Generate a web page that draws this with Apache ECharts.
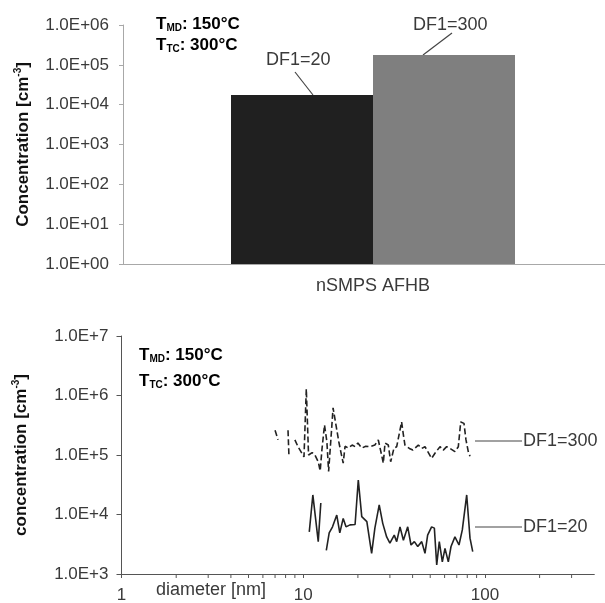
<!DOCTYPE html>
<html><head><meta charset="utf-8">
<script src="https://cdn.jsdelivr.net/npm/echarts@6/dist/echarts.min.js"></script>
<style>html,body{margin:0;padding:0;background:#fff}#c{width:605px;height:603px}</style>
</head><body><div id="c"></div>
<script>
// ---- top chart data ----
const barCategories = ['nSMPS AFHB'];
const barDF20 = [1.75e4];
const barDF300 = [1.77e5];

// ---- bottom chart data: [diameter nm, concentration cm^-3] ----
const df300 = [
  [7.0,2.6e5],[7.27,1.8e5],null,[8.25,2.6e5],[8.35,9.3e4],null,[9.0,1.8e5],[9.36,1.38e5],
  [10.1,9.3e4],[10.4,1.29e6],[10.7,1.0e5],[11.2,1.1e5],[11.6,1.0e5],[12.1,7.7e4],[12.4,5.4e4],
  [12.7,1.3e5],[13.1,3.2e5],[13.5,1.67e5],[13.8,5.3e4],[14.2,1.8e5],[14.6,6.2e5],[15.2,3.0e5],
  [15.7,1.67e5],[16.1,1.14e5],[16.6,7.3e4],[17.0,1.4e5],[17.7,1.31e5],[18.6,1.47e5],[19.3,1.38e5],
  [20.0,1.59e5],[21.0,1.31e5],[22.1,1.4e5],[23.3,1.38e5],[24.8,1.47e5],[25.9,1.79e5],[27.0,1.0e5],
  [27.6,7.3e4],[28.2,1.59e5],[29.4,1.47e5],[30.3,7.7e4],[31.6,1.31e5],[32.7,1.38e5],[34.8,3.6e5],
  [35.6,2.17e5],[36.3,1.47e5],[38.4,1.29e5],[40.1,1.21e5],[43.0,1.47e5],[44.9,1.29e5],[46.8,1.38e5],
  [50.9,8.8e4],[53.1,1.07e5],[56.6,1.38e5],[59.0,1.21e5],[61.6,1.38e5],[64.3,1.29e5],[68.4,1.14e5],
  [71.4,1.38e5],[73.6,3.6e5],[76.7,3.4e5],[78.7,1.79e5],[81.0,1.14e5],[82.8,9.5e4]
];
const df20 = [
  [10.8,5.1e3],[11.3,2.13e4],[12.1,3.5e3],[12.5,1.56e4],null,
  [13.4,2.5e3],[13.9,4.9e3],[14.5,6.2e3],[15.3,9.8e3],[15.9,4.9e3],[16.6,8.6e3],[17.2,6.2e3],
  [18.1,6.7e3],[19.3,6.8e3],[20.1,3.8e4],[21.0,9.2e3],[22.4,7.6e3],[23.8,2.23e3],[24.8,5.9e3],
  [25.4,5.5e3],[26.2,1.45e4],[27.4,7.1e3],[28.8,4.2e3],[30.0,3.3e3],[31.7,4.5e3],[32.7,3.5e3],
  [34.1,6.2e3],[35.6,3.7e3],[37.6,6.2e3],[39.2,3.07e3],[40.9,3.5e3],[42.7,2.9e3],[44.9,3.5e3],
  [46.8,2.23e3],[48.4,4.5e3],[50.9,6.2e3],[52.7,5.9e3],[54.3,1.42e3],[56.1,3.5e3],[58.3,1.6e3],
  [60.3,2.7e3],[62.9,1.6e3],[65.1,2.9e3],[68.4,4.2e3],[72.0,3.07e3],[75.1,5.5e3],[79.4,2.13e4],
  [82.8,4.0e3],[85.7,2.37e3]
];
const minorTicksX = [2,3,4,5,6,7,8,9,20,30,40,50,60,70,80,90,200,300];

const FONT = '"Liberation Sans", Arial, sans-serif';
const labelColor = '#3a3a3a';
const topAxisColor = '#a8a8a8';
const botAxisColor = '#555';

function expTop(v){ const e = Math.round(Math.log10(v)); return '1.0E+' + (e < 10 ? '0' : '') + e; }
function expBot(v){ const e = Math.round(Math.log10(v)); return '1.0E+' + e; }

const titleRich = {
  b: {fontSize: 17, fontWeight: 'bold', color: '#111', fontFamily: FONT, lineHeight: 20},
  sup: {fontSize: 10, fontWeight: 'bold', color: '#111', fontFamily: FONT, verticalAlign: 'top', lineHeight: 10}
};
const tRich = {
  t: {fontSize: 17, fontWeight: 'bold', color: '#111', fontFamily: FONT, lineHeight: 18},
  s: {fontSize: 10, fontWeight: 'bold', color: '#111', fontFamily: FONT, verticalAlign: 'bottom', lineHeight: 10}
};

function tText(x, y, sub, val){
  return {type: 'text', left: x, top: y, style: {text: '{t|T}{s|' + sub + '}{t|: ' + val + '}', rich: tRich}};
}
function plainText(x, y, txt){
  return {type: 'text', left: x, top: y, style: {text: txt, fontSize: 18, fill: labelColor, fontFamily: FONT}};
}
function seg(x1, y1, x2, y2){
  return {type: 'line', shape: {x1, y1, x2, y2}, style: {stroke: '#444', lineWidth: 1.2}};
}

const chart = echarts.init(document.getElementById('c'), null, {renderer: 'canvas'});
chart.setOption({
  animation: false,
  backgroundColor: '#fff',
  textStyle: {fontFamily: FONT},
  grid: [
    {left: 123, top: 25, width: 500, height: 239, outerBoundsMode: 'none', containLabel: false},
    {left: 121.5, top: 336, width: 472.8, height: 238, outerBoundsMode: 'none', containLabel: false}
  ],
  xAxis: [
    {type: 'category', gridIndex: 0, data: barCategories,
     axisLine: {lineStyle: {color: topAxisColor, width: 1}}, axisTick: {show: false},
     axisLabel: {fontSize: 18, color: labelColor, margin: 13, fontFamily: FONT}},
    {type: 'log', gridIndex: 1, min: 1, max: 400, logBase: 10,
     axisLine: {lineStyle: {color: botAxisColor, width: 1}},
     axisTick: {show: true, length: 4, lineStyle: {color: botAxisColor}},
     axisLabel: {fontSize: 17, color: labelColor, margin: 13, showMaxLabel: false, fontFamily: FONT},
     splitLine: {show: false}}
  ],
  yAxis: [
    {type: 'log', gridIndex: 0, min: 1, max: 1e6, logBase: 10,
     axisLine: {show: true, lineStyle: {color: topAxisColor}},
     axisTick: {show: true, length: 4, lineStyle: {color: topAxisColor}},
     axisLabel: {fontSize: 17, color: labelColor, margin: 14, formatter: expTop, fontFamily: FONT},
     splitLine: {show: false},
     name: '{b|Concentration [cm}{sup|-3}{b|]}', nameLocation: 'middle', nameRotate: 90, nameGap: 90,
     nameTextStyle: {rich: titleRich}},
    {type: 'log', gridIndex: 1, min: 1e3, max: 1e7, logBase: 10,
     axisLine: {show: true, lineStyle: {color: botAxisColor}},
     axisTick: {show: true, length: 5, lineStyle: {color: botAxisColor}},
     axisLabel: {fontSize: 17, color: labelColor, margin: 13, formatter: expBot, fontFamily: FONT},
     splitLine: {show: false},
     name: '{b|concentration [cm}{sup|-3}{b|]}', nameLocation: 'middle', nameRotate: 90, nameGap: 90,
     nameTextStyle: {rich: titleRich}}
  ],
  series: [
    {type: 'bar', name: 'DF1=20', xAxisIndex: 0, yAxisIndex: 0, data: barDF20,
     barWidth: 142, barGap: '0%', itemStyle: {color: '#202020'}},
    {type: 'bar', name: 'DF1=300', xAxisIndex: 0, yAxisIndex: 0, data: barDF300,
     barWidth: 142, barGap: '0%', itemStyle: {color: '#7f7f7f'}},
    {type: 'line', name: 'DF1=300', xAxisIndex: 1, yAxisIndex: 1, data: df300,
     showSymbol: false, symbol: 'none', connectNulls: false,
     lineStyle: {color: '#222', width: 1.6, type: [6, 3]}},
    {type: 'line', name: 'DF1=20', xAxisIndex: 1, yAxisIndex: 1, data: df20,
     showSymbol: false, symbol: 'none', connectNulls: false,
     lineStyle: {color: '#222', width: 1.6}},
    {type: 'custom', xAxisIndex: 1, yAxisIndex: 1, silent: true, clip: false,
     data: minorTicksX.map(v => [v, 1e3]),
     renderItem: function(params, api){
       const p = api.coord([api.value(0), api.value(1)]);
       return {type: 'line', shape: {x1: p[0], y1: p[1], x2: p[0], y2: p[1] + 4},
               style: {stroke: botAxisColor, lineWidth: 1}};
     }}
  ],
  graphic: [
    tText(156, 16, 'MD', '150°C'),
    tText(156, 37, 'TC', '300°C'),
    plainText(266, 51, 'DF1=20'),
    seg(295, 72, 313, 95),
    plainText(413, 16, 'DF1=300'),
    seg(452, 33, 423, 55),
    tText(139, 347, 'MD', '150°C'),
    tText(139, 373, 'TC', '300°C'),
    seg(475, 441, 522, 441),
    plainText(523, 432, 'DF1=300'),
    seg(475, 527, 522, 527),
    plainText(523, 518, 'DF1=20'),
    plainText(156, 581, 'diameter [nm]')
  ]
});
</script>
</body></html>
